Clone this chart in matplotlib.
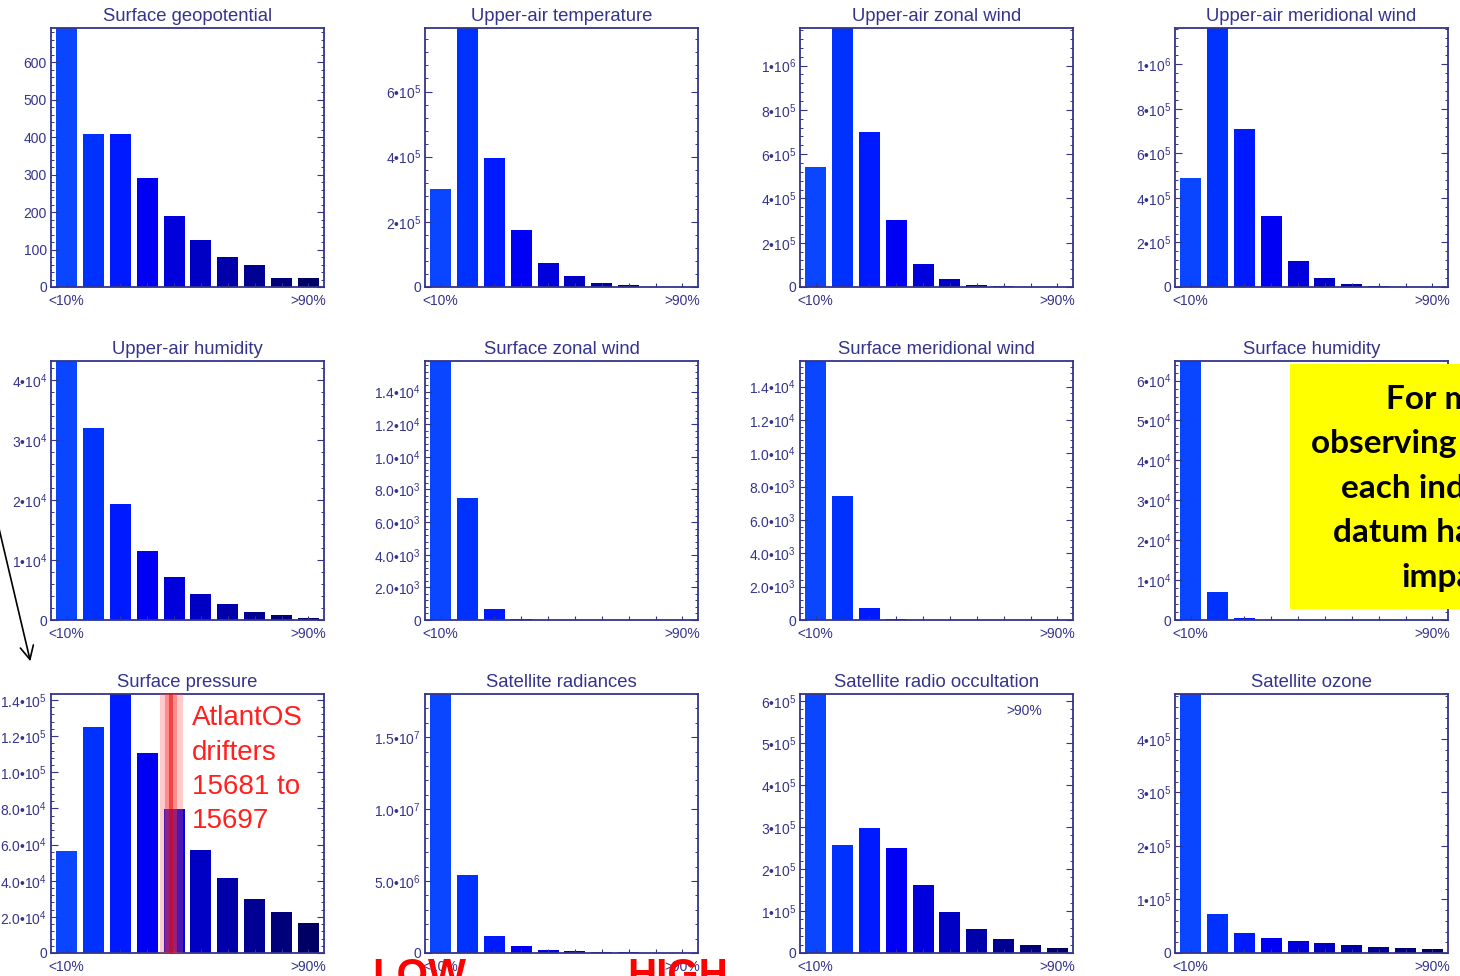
import matplotlib
matplotlib.use('Agg')
import matplotlib.pyplot as plt
from matplotlib.patches import Rectangle
from matplotlib.ticker import AutoMinorLocator

plt.rcParams['font.family'] = ['Liberation Sans', 'DejaVu Sans']
plt.rcParams['mathtext.fontset'] = 'custom'
plt.rcParams['mathtext.rm'] = 'Liberation Sans'
plt.rcParams['mathtext.it'] = 'Liberation Sans'
plt.rcParams['mathtext.bf'] = 'Liberation Sans:bold'

# data (10 bins, lowest to highest percentile)
bin_labels = ['<10%', '>90%']

titles = ['Surface geopotential', 'Upper-air temperature', 'Upper-air zonal wind',
          'Upper-air meridional wind', 'Upper-air humidity', 'Surface zonal wind',
          'Surface meridional wind', 'Surface humidity', 'Surface pressure',
          'Satellite radiances', 'Satellite radio occultation', 'Satellite ozone']

sfc_geopotential = [900, 410, 410, 290, 190, 126, 79, 59, 25, 25]
ua_temperature = [3.02e5, 9.0e5, 3.96e5, 1.74e5, 0.75e5, 0.34e5, 0.13e5, 0.06e5, 0.015e5, 0.005e5]
ua_zonal_wind = [5.41e5, 1.4e6, 7.0e5, 3.04e5, 1.03e5, 0.35e5, 0.1e5, 0.03e5, 0.01e5, 0.005e5]
ua_merid_wind = [4.9e5, 1.4e6, 7.1e5, 3.2e5, 1.17e5, 0.4e5, 0.13e5, 0.04e5, 0.015e5, 0.005e5]
ua_humidity = [5.5e4, 3.21e4, 1.93e4, 1.15e4, 0.71e4, 0.43e4, 0.27e4, 0.13e4, 0.08e4, 0.04e4]
sfc_zonal_wind = [2.0e4, 7.46e3, 660, 70, 10, 5, 2, 1, 1, 0]
sfc_merid_wind = [2.0e4, 7.44e3, 700, 50, 10, 5, 2, 1, 0, 0]
sfc_humidity = [8.0e4, 7.1e3, 600, 50, 20, 10, 5, 2, 1, 0]
sfc_pressure = [5.64e4, 1.25e5, 1.6e5, 1.105e5, 7.97e4, 5.68e4, 4.17e4, 2.98e4, 2.25e4, 1.66e4]
sat_radiances = [2.2e7, 5.44e6, 1.18e6, 4.7e5, 2.4e5, 1.4e5, 8e4, 5e4, 3e4, 2e4]
sat_gpsro = [7.5e5, 2.58e5, 2.97e5, 2.49e5, 1.62e5, 0.97e5, 0.57e5, 0.33e5, 0.2e5, 0.12e5]
sat_ozone = [6.0e5, 0.72e5, 0.38e5, 0.28e5, 0.22e5, 0.18e5, 0.15e5, 0.11e5, 0.09e5, 0.07e5]

counts = [sfc_geopotential, ua_temperature, ua_zonal_wind, ua_merid_wind,
          ua_humidity, sfc_zonal_wind, sfc_merid_wind, sfc_humidity,
          sfc_pressure, sat_radiances, sat_gpsro, sat_ozone]

y_top = [692, 7.95e5, 1.17e6, 1.163e6, 4.32e4, 1.587e4, 1.554e4, 6.49e4,
         1.433e5, 1.80e7, 6.16e5, 4.84e5]

y_ticks = [
    ([0, 100, 200, 300, 400, 500, 600], ['0', '100', '200', '300', '400', '500', '600']),
    ([0, 2e5, 4e5, 6e5], ['0', '2•10$^5$', '4•10$^5$', '6•10$^5$']),
    ([0, 2e5, 4e5, 6e5, 8e5, 1e6], ['0', '2•10$^5$', '4•10$^5$', '6•10$^5$', '8•10$^5$', '1•10$^6$']),
    ([0, 2e5, 4e5, 6e5, 8e5, 1e6], ['0', '2•10$^5$', '4•10$^5$', '6•10$^5$', '8•10$^5$', '1•10$^6$']),
    ([0, 1e4, 2e4, 3e4, 4e4], ['0', '1•10$^4$', '2•10$^4$', '3•10$^4$', '4•10$^4$']),
    ([0, 2e3, 4e3, 6e3, 8e3, 1e4, 1.2e4, 1.4e4],
     ['0', '2.0•10$^3$', '4.0•10$^3$', '6.0•10$^3$', '8.0•10$^3$', '1.0•10$^4$', '1.2•10$^4$', '1.4•10$^4$']),
    ([0, 2e3, 4e3, 6e3, 8e3, 1e4, 1.2e4, 1.4e4],
     ['0', '2.0•10$^3$', '4.0•10$^3$', '6.0•10$^3$', '8.0•10$^3$', '1.0•10$^4$', '1.2•10$^4$', '1.4•10$^4$']),
    ([0, 1e4, 2e4, 3e4, 4e4, 5e4, 6e4],
     ['0', '1•10$^4$', '2•10$^4$', '3•10$^4$', '4•10$^4$', '5•10$^4$', '6•10$^4$']),
    ([0, 2e4, 4e4, 6e4, 8e4, 1e5, 1.2e5, 1.4e5],
     ['0', '2.0•10$^4$', '4.0•10$^4$', '6.0•10$^4$', '8.0•10$^4$', '1.0•10$^5$', '1.2•10$^5$', '1.4•10$^5$']),
    ([0, 5e6, 1e7, 1.5e7], ['0', '5.0•10$^6$', '1.0•10$^7$', '1.5•10$^7$']),
    ([0, 1e5, 2e5, 3e5, 4e5, 5e5, 6e5],
     ['0', '1•10$^5$', '2•10$^5$', '3•10$^5$', '4•10$^5$', '5•10$^5$', '6•10$^5$']),
    ([0, 1e5, 2e5, 3e5, 4e5], ['0', '1•10$^5$', '2•10$^5$', '3•10$^5$', '4•10$^5$']),
]

bar_colors = ['#0a46ff', '#0032ff', '#001aff', '#0000f4', '#0000dc',
              '#0000c4', '#0000aa', '#000092', '#00007a', '#000064']
navy = '#34348c'

W, H = 1460, 976
fig = plt.figure(figsize=(W / 100, H / 100), dpi=100)

col_left = [51, 425, 800, 1175]
row_top = [28, 361, 694]
ax_w, ax_h = 273, 259

axes = []
for i, title in enumerate(titles):
    r, c = divmod(i, 4)
    ax = fig.add_axes([col_left[c] / W, 1 - (row_top[r] + ax_h) / H, ax_w / W, ax_h / H])
    x = list(range(len(counts[i])))
    ax.bar(x, counts[i], width=0.78, color=bar_colors, edgecolor='none')
    ax.set_xlim(-0.58, 9.58)
    ax.set_ylim(0, y_top[i])
    ax.set_xticks([0, 9])
    ax.set_xticklabels(bin_labels)
    ax.set_xticks(x, minor=True)
    ax.set_yticks(y_ticks[i][0])
    ax.set_yticklabels(y_ticks[i][1])
    ax.yaxis.set_minor_locator(AutoMinorLocator(5))
    ax.tick_params(axis='x', which='both', direction='in', length=3, width=0.8,
                   color=navy, labelcolor=navy, labelsize=10, pad=5, top=False)
    ax.tick_params(axis='y', which='major', direction='in', length=5, width=0.8,
                   color=navy, labelcolor=navy, labelsize=10, pad=3, right=True)
    ax.tick_params(axis='y', which='minor', direction='in', length=2.5, width=0.7,
                   color=navy, right=True)
    for sp in ax.spines.values():
        sp.set_color(navy)
        sp.set_linewidth(1.3)
    ax.set_title(title, fontsize=13.3, color=navy, pad=5)
    axes.append(ax)

# drifter band over the surface pressure histogram
axp = axes[8]
axp.axvspan(3.48, 4.33, color='#ff5050', alpha=0.3, lw=0, zorder=3)
axp.axvspan(3.66, 4.11, color='#ff3030', alpha=0.4, lw=0, zorder=3)
axp.axvspan(3.80, 3.97, color='#e00000', alpha=0.5, lw=0, zorder=3)

axes[10].text(0.82, 0.934, '>90%', transform=axes[10].transAxes, ha='center',
              va='center', fontsize=10, color=navy)

# overlay in pixel coordinates for the slide annotations
ov = fig.add_axes([0, 0, 1, 1], zorder=10)
ov.set_xlim(0, W)
ov.set_ylim(H, 0)
ov.axis('off')
ov.patch.set_alpha(0)

for k, line in enumerate(['AtlantOS', 'drifters', '15681 to', '15697']):
    ov.text(192, 725 + 34.5 * k, line, color='#ff2020', fontsize=20,
            ha='left', va='baseline')

ov.add_patch(Rectangle((1290, 364), 200, 245, facecolor='#ffff00', edgecolor='none'))
box_lines = ['For most', 'observing systems,', 'each individual', 'datum has small', 'impact']
for k, line in enumerate(box_lines):
    ov.text(1452, 409 + 44.5 * k, line, family=['Lato', 'DejaVu Sans'], weight='bold',
            fontsize=24, color='black', ha='center', va='baseline')

ov.text(372, 987, 'LOW', color='#ff0000', weight='bold', fontsize=29, ha='left', va='baseline')
ov.text(627, 987, 'HIGH', color='#ff0000', weight='bold', fontsize=29, ha='left', va='baseline')

ov.annotate('', xy=(31, 664), xytext=(-3, 520), annotation_clip=False,
            arrowprops=dict(arrowstyle='->', color='black', lw=1.2, mutation_scale=24))

fig.savefig('out.png', dpi=100)
